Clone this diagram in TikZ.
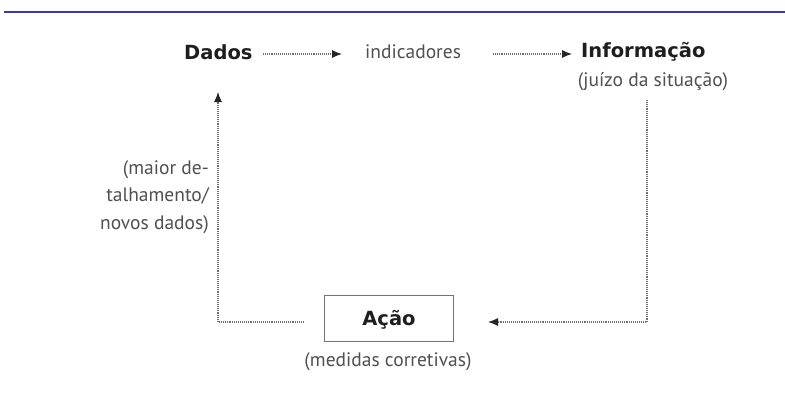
\documentclass[tikz,border=0pt]{standalone}
\usepackage{fontspec}
\setmainfont{PT Sans}
\newfontfamily\boldfam{DejaVu Sans}
\usetikzlibrary{arrows.meta}
\definecolor{txt}{HTML}{505050}
\definecolor{btxt}{HTML}{1E1E1E}
\definecolor{topline}{HTML}{3A3AB8}
\definecolor{lncol}{HTML}{707070}
\begin{document}
\begin{tikzpicture}[x=1pt,y=-1pt,
  boldlbl/.style={font=\boldfam\bfseries\fontsize{19.5}{22}\selectfont, text=btxt, inner sep=0pt},
  lbl/.style={font=\fontsize{19.5}{22}\selectfont, text=txt, inner sep=0pt},
  conn/.style={draw=lncol, densely dotted, line width=1.1pt},
  tip/.style={-{Latex[length=10pt,width=8pt,color=black!85]}},
  box/.style={draw=gray!90!black, line width=0.9pt, minimum width=129pt, minimum height=46pt, inner sep=0pt}]
\useasboundingbox (0,0) rectangle (785,392);
\draw[topline, line width=1.2pt] (4,12) -- (785,12);
\node[boldlbl, anchor=west] (dados) at (184,52) {Dados};
\node[lbl, anchor=west] (ind) at (365,52) {indicadores};
\node[boldlbl, anchor=west] (info) at (581,52) {Informação};
\node[lbl] (juizo) at (653,82) {(juízo da situação)};
\node[box] (acao) at (389,318) {};
\node[boldlbl] (acaotxt) at (389,320) {Ação};
\node[lbl] (medidas) at (388,362) {(medidas corretivas)};
\node[lbl, align=right, anchor=east, font=\fontsize{19.5}{27.5}\selectfont] (maior) at (209,197) {(maior de-\\talhamento/\\novos dados)};
\coordinate (r1) at (647,100);
\coordinate (r2) at (647,322);
\coordinate (rend) at (488,322);
\coordinate (l1) at (304,322);
\coordinate (l2) at (218,322);
\coordinate (lend) at (218,92);
\coordinate (a1s) at (263,54);
\coordinate (a1e) at (342,54);
\coordinate (a2s) at (493,54);
\coordinate (a2e) at (572,54);
\draw[conn, tip] (a1s) -- (a1e);
\draw[conn, tip] (a2s) -- (a2e);
\draw[conn, tip] (r1) -- (r2) -- (rend);
\draw[conn, tip] (l1) -- (l2) -- (lend);
\end{tikzpicture}
\end{document}
